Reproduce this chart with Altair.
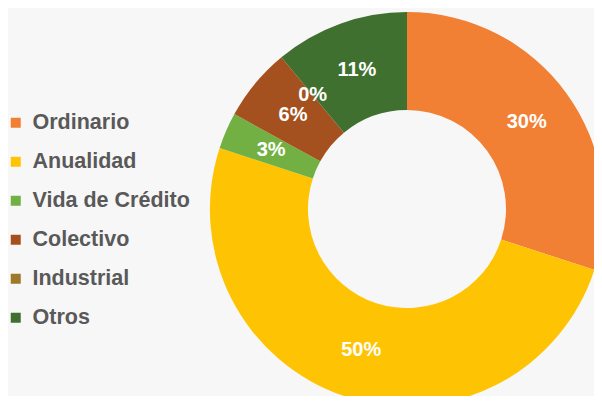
import altair as alt
import pandas as pd

categories = ["Ordinario", "Anualidad", "Vida de Crédito", "Colectivo", "Industrial", "Otros"]
values = [30, 50, 3, 6, 0, 11]
colors = ["#F28034", "#FEC404", "#72B043", "#A5511F", "#9D7A2A", "#40702F"]

df = pd.DataFrame({
    "categoria": categories,
    "valor": values,
    "orden": list(range(len(categories))),
})

base = alt.Chart(df).encode(
    theta=alt.Theta("valor:Q", stack=True),
    order=alt.Order("orden:Q", sort="ascending"),
)

arcs = base.mark_arc(innerRadius=99, outerRadius=197, x=399, y=201).encode(
    color=alt.Color(
        "categoria:N",
        scale=alt.Scale(domain=categories, range=colors),
        sort=categories,
        legend=alt.Legend(
            title=None,
            orient="none",
            legendX=-3,
            legendY=104,
            symbolType="square",
            symbolSize=100,
            symbolStrokeWidth=0,
            labelFont="Liberation Sans",
            labelFontSize=21.5,
            labelFontWeight="bold",
            labelColor="#595959",
            labelOffset=6,
            rowPadding=16,
            labelLimit=300,
        ),
    )
)

labels = base.transform_calculate(
    etiqueta="format(datum.valor, '.0f') + '%'"
).mark_text(
    radius=148,
    x=399,
    y=201,
    font="Liberation Sans",
    fontSize=20,
    fontWeight="bold",
    color="white",
).encode(text="etiqueta:N")

chart = (
    alt.layer(arcs, labels)
    .properties(
        width=586,
        height=388,
        autosize=alt.AutoSizeParams(type="none"),
        padding=0,
        background="#f8f7f7",
    )
    .configure_view(stroke=None)
)

chart.save("out.html", embed_options={"renderer": "svg", "actions": False})
